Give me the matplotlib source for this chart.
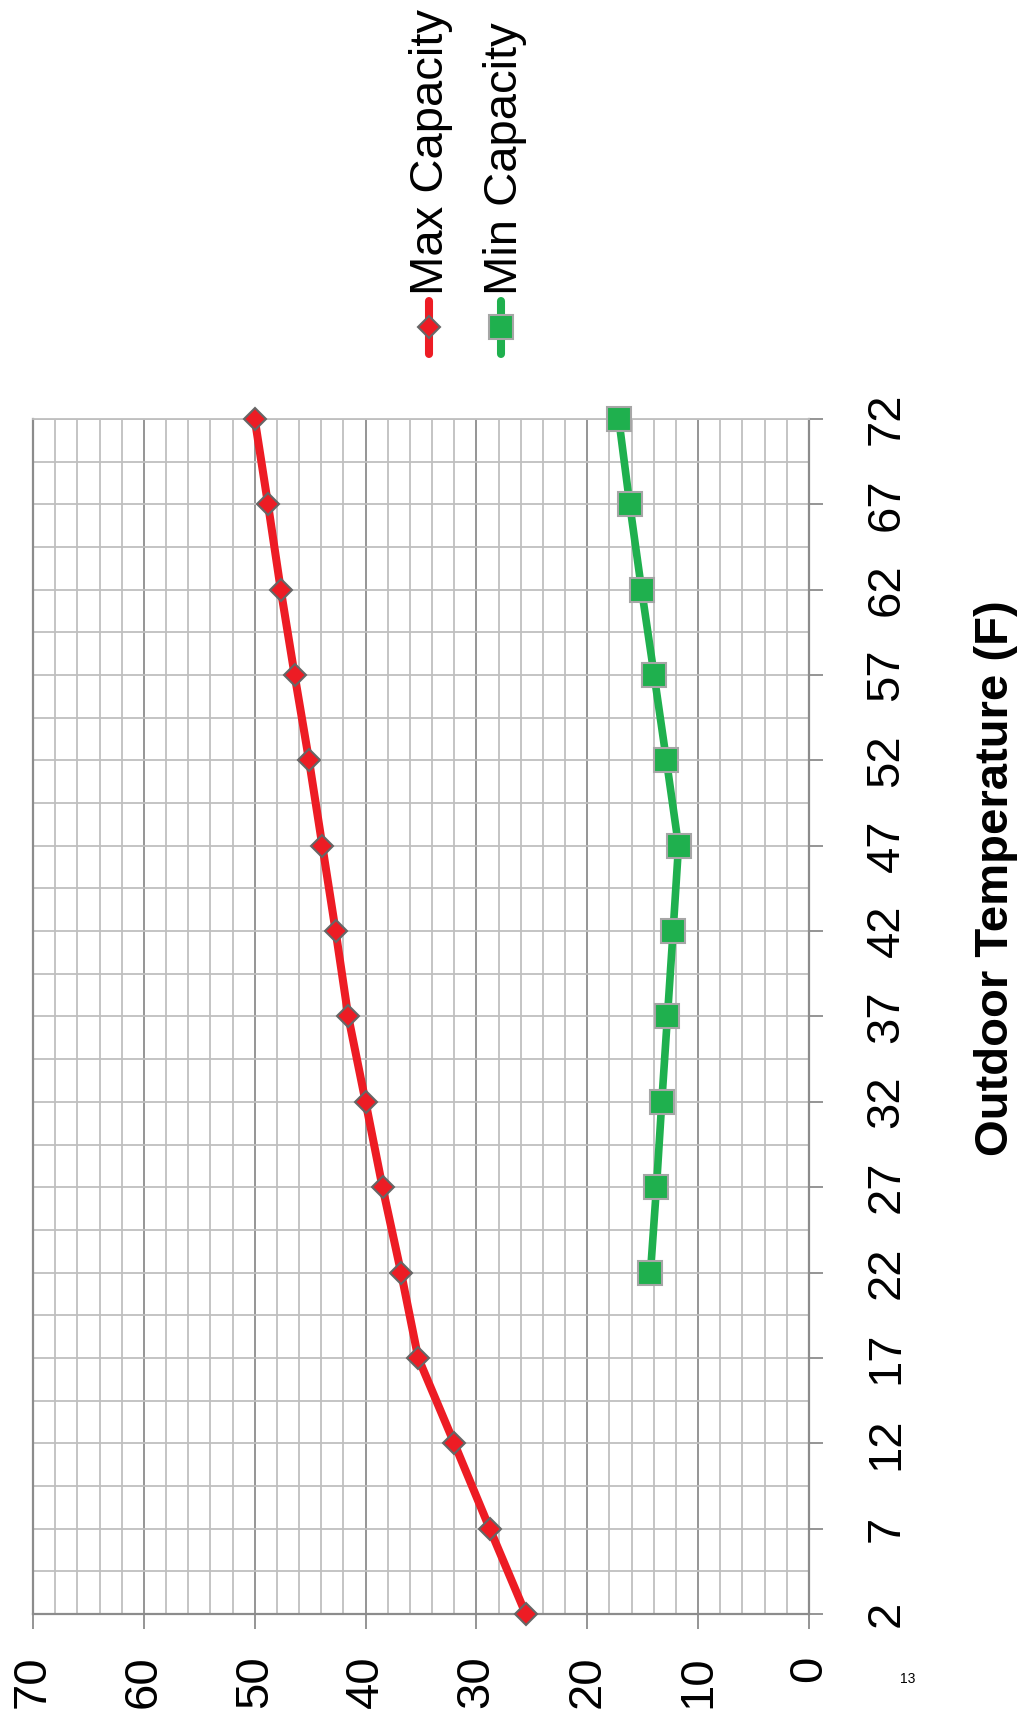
import matplotlib
matplotlib.use("Agg")
import matplotlib.pyplot as plt
from matplotlib.lines import Line2D
import numpy as np

plt.rcParams['font.family'] = ['Liberation Sans', 'DejaVu Sans']

temps = [2, 7, 12, 17, 22, 27, 32, 37, 42, 47, 52, 57, 62, 67, 72]
max_capacity = [25.55, 28.8, 32.0, 35.25, 36.8, 38.47, 40.0, 41.56, 42.7, 43.9, 45.1, 46.4, 47.65, 48.8, 50.0]
min_temps = [22, 27, 32, 37, 42, 47, 52, 57, 62, 67, 72]
min_capacity = [14.3, 13.76, 13.28, 12.77, 12.26, 11.77, 12.86, 13.97, 15.1, 16.17, 17.16]
value_ticks = [0, 10, 20, 30, 40, 50, 60, 70]
series_names = ["Max Capacity", "Min Capacity"]

RED = "#ED1C24"
GREEN = "#1FB04E"
W, H = 1028, 1716


def fx(px):
    return px / W


def fy(py):
    return 1 - py / H


fig = plt.figure(figsize=(W / 100, H / 100), dpi=100)
ax = fig.add_axes([fx(33), fy(1614), 776 / W, 1195 / H])

ax.plot(max_capacity, temps, color=RED, lw=5.8, marker="D", ms=11.5, mfc=RED,
        mec="#666666", mew=1.5, solid_joinstyle="round", clip_on=False, zorder=3)
ax.plot(min_capacity, min_temps, color=GREEN, lw=5.5, marker="s", ms=17, mfc=GREEN,
        mec="#A6A6A6", mew=1.5, solid_joinstyle="round", clip_on=False, zorder=3)

ax.set_xlim(70, 0)
ax.set_ylim(2, 72)
ax.set_xticks(value_ticks)
ax.set_xticks(np.arange(0, 71, 2), minor=True)
ax.set_yticks(temps)
ax.set_yticks(np.arange(2, 72.1, 2.5), minor=True)
ax.yaxis.tick_right()

ax.tick_params(axis="x", which="major", bottom=True, top=False, direction="out",
               length=10.5, width=1.3, color="#8C8C8C", pad=19.5, labelsize=34,
               labelrotation=90)
ax.tick_params(axis="y", which="major", right=True, left=False, direction="out",
               length=10, width=1.3, color="#8C8C8C", pad=30, labelsize=34,
               labelrotation=90)
ax.tick_params(which="minor", length=0)
plt.setp(ax.get_yticklabels(), va="center")

ax.grid(which="minor", axis="both", color="#BFBFBF", lw=1.3)
ax.grid(which="major", axis="y", color="#BFBFBF", lw=1.3)
ax.grid(which="major", axis="x", color="#8C8C8C", lw=1.3)
ax.set_axisbelow(True)

for side in ["left", "right", "bottom"]:
    ax.spines[side].set_color("#8C8C8C")
    ax.spines[side].set_linewidth(1.6)
ax.spines["top"].set_color("#BFBFBF")
ax.spines["top"].set_linewidth(1.3)

# legend, rotated like the rest of the chart
leg = [(429, 431, RED, "D", 11.5, "#666666"), (501, 505, GREEN, "s", 17, "#A6A6A6")]
for name, (mx, tx, col, mk, ms, ec) in zip(series_names, leg):
    fig.add_artist(Line2D([fx(mx)] * 2, [fy(301), fy(354)], transform=fig.transFigure,
                          color=col, lw=5.8, solid_capstyle="round"))
    fig.add_artist(Line2D([fx(mx)], [fy(327)], transform=fig.transFigure, marker=mk,
                          ms=ms, mfc=col, mec=ec, mew=1.5, ls="none"))
    fig.text(fx(tx), fy(295), name, rotation=90, ha="center", va="bottom", fontsize=34)

fig.text(fx(996), fy(878), "Outdoor Temperature (F)", rotation=90, fontsize=34,
         fontweight="bold", ha="center", va="center")
fig.text(fx(908), fy(1679), "13", fontsize=10, ha="center", va="center")

fig.savefig("out.png", dpi=100)
